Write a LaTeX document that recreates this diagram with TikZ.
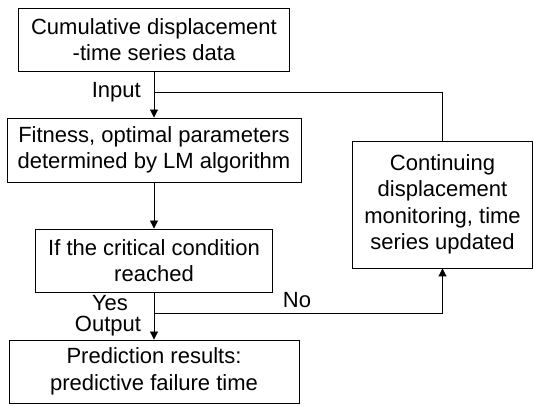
\documentclass[tikz,border=0pt]{standalone}
\usepackage{fontspec}
\setmainfont{Liberation Sans}
\usetikzlibrary{arrows.meta}
\tikzset{
  flowbox/.style={draw, line width=0.9pt, align=center, inner sep=0pt, minimum height=63pt},
  flowarrow/.style={line width=0.9pt, -{Triangle[length=8pt,width=8pt]}},
  flowline/.style={line width=0.9pt},
  flowlabel/.style={inner sep=0pt}
}
\begin{document}
\begin{tikzpicture}[x=1pt,y=1pt,font=\fontsize{22}{26.5}\selectfont]
\useasboundingbox (0,0) rectangle (533,406);
\node[flowbox, minimum width=271pt] (data) at (154,366.5) {Cumulative displacement\\-time series data};
\node[flowbox, minimum width=294pt, minimum height=64pt] (fit) at (154,256) {Fitness, optimal parameters\\determined by LM algorithm};
\node[flowbox, minimum width=237pt] (cond) at (154,145.5) {If the critical condition\\reached};
\node[flowbox, minimum width=290pt] (result) at (154,34.5) {Prediction results:\\predictive failure time};
\node[flowbox, minimum width=180pt, minimum height=127pt] (monitor) at (442.5,201.5) {Continuing\\displacement\\monitoring, time\\series updated};
\coordinate (join) at (154,314);
\coordinate (split) at (154,93);
\draw[flowarrow] (data.south) -- (fit.north);
\draw[flowarrow] (fit.south) -- (cond.north);
\draw[flowarrow] (cond.south) -- (result.north);
\draw[flowline] (monitor.north) |- (join);
\draw[flowarrow] (split) -| (monitor.south);
\node[flowlabel, anchor=east] (input) at (141,314) {Input};
\node[flowlabel, anchor=base] (yes) at (110,95) {Yes};
\node[flowlabel, anchor=base] (output) at (108,74.5) {Output};
\node[flowlabel] (no) at (297,106) {No};
\end{tikzpicture}
\end{document}
